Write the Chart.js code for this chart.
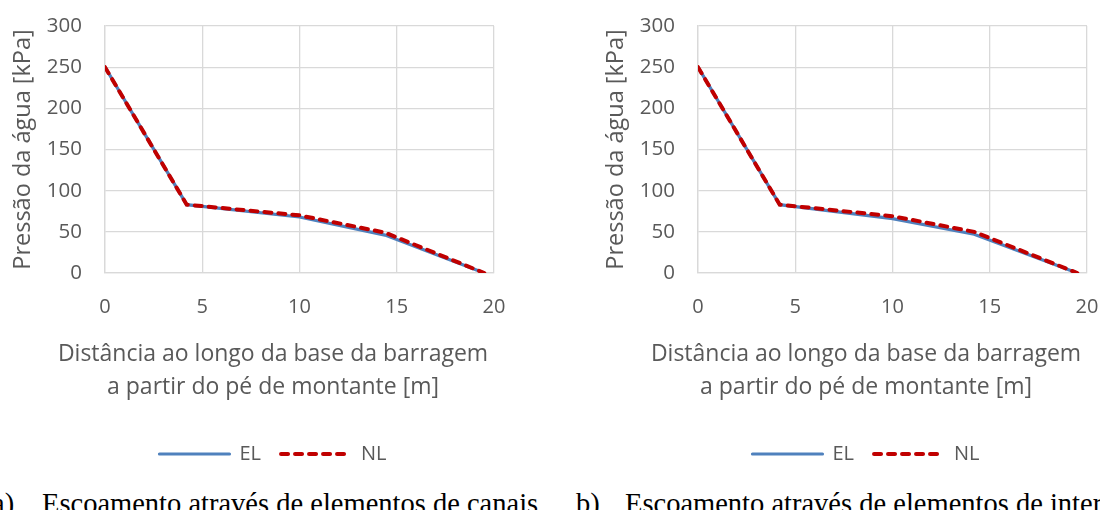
<!DOCTYPE html>
<html>
<head>
<meta charset="utf-8">
<script src="https://cdn.jsdelivr.net/npm/chart.js@4.4.1/dist/chart.umd.min.js"></script>
<style>
    body { margin: 0; width: 1100px; height: 510px; overflow: hidden; background: #fff; position: relative; }
    .box { position: absolute; top: 0; width: 546px; height: 474px; }
    .caption { position: absolute; top: 490px; font-family: "Liberation Serif", "Times New Roman", serif; font-size: 28.5px; line-height: 28.5px; color: #000; white-space: nowrap; }
    .caption span { position: absolute; top: 0; }
</style>
</head>
<body>
<div class="box" style="left:0px"><canvas id="chartA"></canvas></div>
<div class="box" style="left:593px"><canvas id="chartB"></canvas></div>
<div class="caption" style="left:-8px"><span>a)</span><span style="left:50px">Escoamento através de elementos de canais</span></div>
<div class="caption" style="left:576px"><span>b)</span><span style="left:49px">Escoamento através de elementos de interface</span></div>

<script>
// distância ao longo da base [m] e pressões [kPa]
let xA = [0, 4.2, 10, 14.4, 19.5];
let elA = [250, 83, 68, 46, 0];
let nlA = [250, 83, 70, 49, 0];

let xB = [0, 4.2, 10, 14.2, 19.5];
let elB = [250, 83, 66, 47, 0];
let nlB = [250, 83, 69, 50, 0];

let seriesNames = ["EL", "NL"];
let xTitle = ["Distância ao longo da base da barragem", "a partir do pé de montante [m]"];
let yTitle = "Pressão da água [kPa]";

let textColor = "#595959";
let gridColor = "#d9d9d9";
let font = "Open Sans";

function points(xs, ys) {
    return xs.map((x, i) => ({ x: x, y: ys[i] }));
}

function makeChart(id, xs, el, nl) {
    let ctx = document.getElementById(id).getContext("2d");
    return new Chart(ctx, {
        type: 'line',
        data: {
            datasets: [
                {
                    label: seriesNames[0],
                    data: points(xs, el),
                    borderColor: "#4f81bd",
                    borderWidth: 3.2,
                    pointRadius: 0,
                    tension: 0,
                    order: 1
                },
                {
                    label: seriesNames[1],
                    data: points(xs, nl),
                    borderColor: "#c00000",
                    borderWidth: 4,
                    borderDash: [7, 7],
                    borderCapStyle: 'round',
                    pointRadius: 0,
                    tension: 0,
                    order: 0
                }
            ]
        },
        options: {
            responsive: true,
            maintainAspectRatio: false,
            animation: false,
            layout: { padding: { top: 26, left: 0, right: 0, bottom: 0 } },
            scales: {
                x: {
                    type: 'linear',
                    min: 0,
                    max: 20,
                    // invisible tick marks give the gap between axis and labels
                    ticks: { stepSize: 5, color: textColor, font: { family: font, size: 20 }, padding: 0 },
                    grid: { color: gridColor, lineWidth: 1.3, drawTicks: true, tickLength: 22, tickColor: 'transparent' },
                    border: { color: gridColor, width: 1.3 },
                    afterFit: s => { s.height = 50; }
                },
                y: {
                    min: 0,
                    max: 300,
                    ticks: { stepSize: 50, color: textColor, font: { family: font, size: 20.5 }, padding: 0 },
                    grid: { color: gridColor, lineWidth: 1.3, drawTicks: true, tickLength: 23, tickColor: 'transparent' },
                    border: { color: gridColor, width: 1.3 },
                    title: {
                        display: true,
                        text: yTitle,
                        color: textColor,
                        font: { family: font, size: 23.5 },
                        padding: { top: 9, bottom: 0 }
                    },
                    afterFit: s => { s.width = 105; }
                },
                // empty right-hand axis, only reserves space after the plot
                yRight: {
                    position: 'right',
                    display: true,
                    min: 0,
                    max: 300,
                    ticks: { display: false },
                    grid: { display: false },
                    border: { display: false },
                    afterFit: s => { s.width = 52; }
                }
            },
            plugins: {
                tooltip: { enabled: false },
                title: {
                    display: true,
                    position: 'bottom',
                    weight: 500,
                    text: xTitle,
                    color: textColor,
                    font: { family: font, size: 23, weight: 'normal', lineHeight: 1.435 },
                    padding: { top: 15, bottom: 20 }
                },
                legend: {
                    position: 'bottom',
                    weight: 1000,
                    labels: {
                        usePointStyle: true,
                        pointStyleWidth: 70,
                        padding: 20,
                        color: textColor,
                        font: { family: font, size: 20 },
                        generateLabels: chart => chart.data.datasets.map((ds, i) => ({
                            text: ds.label,
                            datasetIndex: i,
                            pointStyle: 'line',
                            strokeStyle: ds.borderColor,
                            fillStyle: ds.borderColor,
                            lineWidth: ds.borderWidth,
                            lineDash: ds.borderDash || [],
                            lineCap: 'round',
                            fontColor: textColor,
                            hidden: false
                        }))
                    }
                }
            }
        }
    });
}

makeChart("chartA", xA, elA, nlA);
makeChart("chartB", xB, elB, nlB);
</script>
</body>
</html>
